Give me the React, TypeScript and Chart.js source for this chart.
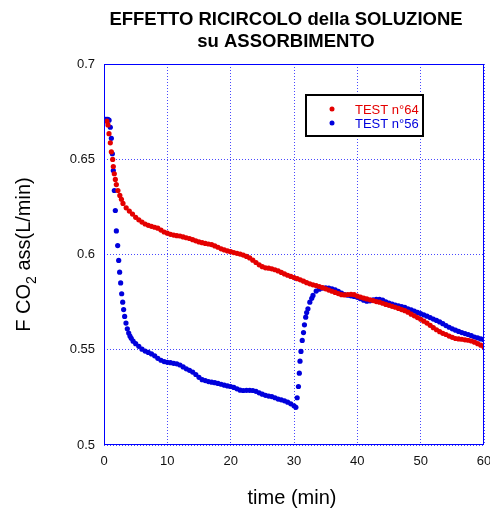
import { useEffect, useRef } from "react";
import { Chart, registerables } from "chart.js";

Chart.register(...registerables);

// Recirculation test data: time (min) and absorbed CO2 flow (L/min)
const test64Time = [
  0.45, 0.63, 0.79, 1.0, 1.16, 1.37, 1.47, 1.63, 1.79, 1.95, 2.2, 2.5, 2.75, 3.0, 3.5, 4.0, 4.5, 5.0, 5.5, 6.0,
  6.5, 7.0, 7.5, 8.0, 8.5, 9.0, 9.5, 10.0, 10.5, 11.0, 11.5, 12.0, 12.5, 13.0, 13.5, 14.0, 14.5, 15.0, 15.5, 16.0,
  16.5, 17.0, 17.5, 18.0, 18.5, 19.0, 19.5, 20.0, 20.5, 21.0, 21.5, 22.0, 22.5, 23.0, 23.5, 24.0, 24.5, 25.0, 25.5, 26.0,
  26.5, 27.0, 27.5, 28.0, 28.5, 29.0, 29.5, 30.0, 30.5, 31.0, 31.5, 32.0, 32.5, 33.0, 33.5, 34.0, 34.5, 35.0, 35.5, 36.0,
  36.5, 37.0, 37.5, 38.0, 38.5, 39.0, 39.5, 40.0, 40.5, 41.0, 41.5, 42.0, 42.5, 43.0, 43.5, 44.0, 44.5, 45.0, 45.5, 46.0,
  46.5, 47.0, 47.5, 48.0, 48.5, 49.0, 49.5, 50.0, 50.5, 51.0, 51.5, 52.0, 52.5, 53.0, 53.5, 54.0, 54.5, 55.0, 55.5, 56.0,
  56.5, 57.0, 57.5, 58.0, 58.5, 59.0, 59.5, 60.0,
];
const test64Flow = [
  0.67, 0.668, 0.6634, 0.6586, 0.6539, 0.6499, 0.6462, 0.6424, 0.6394, 0.6367, 0.6336, 0.631, 0.629, 0.6268, 0.6245, 0.6228, 0.6212, 0.6195, 0.6182, 0.617,
  0.616, 0.6153, 0.6148, 0.6143, 0.6138, 0.6128, 0.6118, 0.6112, 0.6106, 0.6102, 0.6099, 0.6097, 0.6092, 0.6088, 0.6084, 0.6078, 0.6072, 0.6066, 0.6062, 0.6058,
  0.6055, 0.6052, 0.6045, 0.6038, 0.603, 0.6024, 0.6019, 0.6015, 0.601, 0.6006, 0.6002, 0.5997, 0.599, 0.5982, 0.597, 0.5958, 0.5946, 0.5936, 0.593, 0.5928,
  0.5925, 0.592, 0.5914, 0.5906, 0.5898, 0.5891, 0.5885, 0.5879, 0.5873, 0.5867, 0.586, 0.5852, 0.5846, 0.5841, 0.5837, 0.5832, 0.5826, 0.582, 0.5813, 0.5807,
  0.5801, 0.5795, 0.5789, 0.5788, 0.579, 0.5791, 0.5789, 0.5782, 0.5776, 0.5771, 0.5767, 0.5762, 0.5758, 0.5753, 0.575, 0.5744, 0.5738, 0.5733, 0.5728, 0.5723,
  0.5717, 0.5711, 0.5705, 0.5697, 0.5687, 0.5678, 0.5669, 0.566, 0.565, 0.564, 0.5628, 0.5616, 0.5605, 0.5595, 0.5586, 0.558, 0.5572, 0.5565, 0.5559, 0.5557,
  0.5555, 0.5552, 0.555, 0.5546, 0.554, 0.5532, 0.5524, 0.5515,
];

const test56Time = [
  0.0, 0.2, 0.4, 0.6, 0.8, 1.0, 1.16, 1.32, 1.47, 1.63, 1.79, 1.95, 2.16, 2.32, 2.47, 2.63, 2.79, 2.95, 3.1, 3.26,
  3.47, 3.68, 3.9, 4.1, 4.3, 4.6, 5.0, 5.5, 6.0, 6.5, 7.0, 7.5, 8.0, 8.5, 9.0, 9.5, 10.0, 10.5, 11.0, 11.5,
  12.0, 12.5, 13.0, 13.5, 14.0, 14.5, 15.0, 15.5, 16.0, 16.5, 17.0, 17.5, 18.0, 18.5, 19.0, 19.5, 20.0, 20.5, 21.0, 21.5,
  22.0, 22.5, 23.0, 23.5, 24.0, 24.5, 25.0, 25.5, 26.0, 26.5, 27.0, 27.5, 28.0, 28.5, 29.0, 29.5, 30.0, 30.3, 30.5, 30.7,
  30.84, 30.95, 31.1, 31.3, 31.5, 31.65, 31.85, 32.0, 32.2, 32.5, 32.8, 33.0, 33.5, 34.0, 34.5, 35.0, 35.5, 36.0, 36.5, 37.0,
  37.5, 38.0, 38.5, 39.0, 39.5, 40.0, 40.5, 41.0, 41.5, 42.0, 42.5, 43.0, 43.5, 44.0, 44.5, 45.0, 45.5, 46.0, 46.5, 47.0,
  47.5, 48.0, 48.5, 49.0, 49.5, 50.0, 50.5, 51.0, 51.5, 52.0, 52.5, 53.0, 53.5, 54.0, 54.5, 55.0, 55.5, 56.0, 56.5, 57.0,
  57.5, 58.0, 58.5, 59.0, 59.5, 60.0,
];
const test56Flow = [
  0.671, 0.671, 0.671, 0.671, 0.6705, 0.6668, 0.661, 0.6529, 0.6441, 0.6336, 0.6231, 0.6124, 0.6047, 0.5969, 0.5907, 0.5851, 0.5794, 0.575, 0.5711, 0.5675,
  0.564, 0.561, 0.5588, 0.5572, 0.556, 0.5545, 0.5532, 0.5518, 0.5503, 0.5493, 0.5486, 0.5478, 0.5468, 0.5455, 0.5445, 0.5438, 0.5434, 0.5432, 0.5429, 0.5426,
  0.542, 0.541, 0.54, 0.5392, 0.5383, 0.537, 0.5355, 0.5343, 0.5338, 0.5333, 0.533, 0.5327, 0.5323, 0.5319, 0.5314, 0.531, 0.5307, 0.5302, 0.5295, 0.5288,
  0.5286, 0.5287, 0.5287, 0.5286, 0.5282, 0.5274, 0.5267, 0.5261, 0.5257, 0.5254, 0.5248, 0.5241, 0.5237, 0.5232, 0.5225, 0.5216, 0.5206, 0.5198, 0.5248, 0.5307,
  0.5377, 0.544, 0.5491, 0.5549, 0.559, 0.5631, 0.5671, 0.5695, 0.5715, 0.575, 0.577, 0.5785, 0.5808, 0.5818, 0.5824, 0.5825, 0.5823, 0.582, 0.5815, 0.5806,
  0.5798, 0.579, 0.5786, 0.5783, 0.578, 0.5775, 0.5768, 0.576, 0.5755, 0.5757, 0.5762, 0.5764, 0.5764, 0.576, 0.5751, 0.5745, 0.574, 0.5735, 0.5731, 0.5727,
  0.5722, 0.5715, 0.5709, 0.5703, 0.5696, 0.569, 0.5683, 0.5676, 0.5669, 0.5661, 0.5654, 0.5646, 0.5637, 0.5627, 0.5618, 0.561, 0.5603, 0.5596, 0.559, 0.5585,
  0.558, 0.5574, 0.5567, 0.5562, 0.5557, 0.5552,
];

const seriesNames = ["TEST n°64", "TEST n°56"];
const seriesColors = ["rgb(228,0,0)", "rgb(0,0,220)"];

const xTickValues = [0, 10, 20, 30, 40, 50, 60];
const yTickValues = [0.5, 0.55, 0.6, 0.65, 0.7];

const titleLines = ["EFFETTO RICIRCOLO della SOLUZIONE", "su ASSORBIMENTO"];
const xAxisTitle = "time (min)";
const yAxisTitleParts = ["F CO", "2", " ass(L/min)"];

const FONT = "Arial, 'Liberation Sans', Helvetica, sans-serif";
const GRID_BLUE = "rgba(40,40,255,0.85)";
const FRAME_BLUE = "rgb(0,0,255)";

function toPoints(xs: number[], ys: number[]) {
  return xs.map((x, i) => ({ x, y: ys[i] }));
}

// Frame, titles and the boxed legend drawn straight onto the canvas
const decorations = {
  id: "decorations",
  afterDraw(chart: any) {
    const { ctx, chartArea } = chart;
    const { left, right, top, bottom } = chartArea;
    const cx = (left + right) / 2 - 8;
    ctx.save();

    // plot frame
    ctx.strokeStyle = FRAME_BLUE;
    ctx.lineWidth = 1;
    ctx.setLineDash([]);
    ctx.strokeRect(left + 0.5, top + 0.5, right - left - 1, bottom - top - 1);

    // chart title
    ctx.fillStyle = "#000";
    ctx.font = `bold 18.5px ${FONT}`;
    ctx.textAlign = "center";
    ctx.textBaseline = "alphabetic";
    ctx.fillText(titleLines[0], cx, 24.5);
    ctx.fillText(titleLines[1], cx, 47);

    // x axis title
    ctx.font = `20px ${FONT}`;
    ctx.fillText(xAxisTitle, (left + right) / 2 - 2, 504);

    // y axis title with subscript
    ctx.save();
    ctx.translate(30, (top + bottom) / 2);
    ctx.rotate(-Math.PI / 2);
    ctx.font = `20px ${FONT}`;
    const w0 = ctx.measureText(yAxisTitleParts[0]).width;
    ctx.font = `14px ${FONT}`;
    const w1 = ctx.measureText(yAxisTitleParts[1]).width;
    ctx.font = `20px ${FONT}`;
    const w2 = ctx.measureText(yAxisTitleParts[2]).width;
    let x = -(w0 + w1 + w2) / 2;
    ctx.textAlign = "left";
    ctx.fillText(yAxisTitleParts[0], x, 0);
    x += w0;
    ctx.font = `14px ${FONT}`;
    ctx.fillText(yAxisTitleParts[1], x, 6);
    x += w1;
    ctx.font = `20px ${FONT}`;
    ctx.fillText(yAxisTitleParts[2], x, 0);
    ctx.restore();

    // legend
    const lx = left + 202;
    const ly = top + 31;
    ctx.fillStyle = "#fff";
    ctx.fillRect(lx, ly, 117, 41);
    ctx.strokeStyle = "#000";
    ctx.lineWidth = 2;
    ctx.strokeRect(lx, ly, 117, 41);
    ctx.font = `13px ${FONT}`;
    ctx.textAlign = "left";
    ctx.textBaseline = "middle";
    seriesNames.forEach((name, i) => {
      const yy = ly + 14 + i * 14;
      ctx.fillStyle = seriesColors[i];
      ctx.beginPath();
      ctx.arc(lx + 26, yy, 2.5, 0, Math.PI * 2);
      ctx.fill();
      ctx.fillText(name, lx + 49, yy + 1);
    });
    ctx.restore();
  },
};

export default function App() {
  const canvasRef = useRef<HTMLCanvasElement | null>(null);

  useEffect(() => {
    const canvas = canvasRef.current;
    if (!canvas) return;
    const chart = new Chart(canvas, {
      type: "scatter",
      data: {
        datasets: [
          {
            label: seriesNames[0],
            data: toPoints(test64Time, test64Flow),
            backgroundColor: seriesColors[0],
            borderWidth: 0,
            pointRadius: 2.6,
            showLine: false,
          },
          {
            label: seriesNames[1],
            data: toPoints(test56Time, test56Flow),
            backgroundColor: seriesColors[1],
            borderWidth: 0,
            pointRadius: 2.6,
            showLine: false,
          },
        ],
      },
      options: {
        animation: false,
        responsive: false,
        maintainAspectRatio: false,
        events: [],
        layout: { padding: { top: 64, right: 6, left: 0, bottom: 0 } },
        plugins: {
          legend: { display: false },
          title: { display: false },
          tooltip: { enabled: false },
        },
        scales: {
          x: {
            type: "linear",
            min: 0,
            max: 60,
            afterBuildTicks: (scale: any) => {
              scale.ticks = xTickValues.map((v) => ({ value: v }));
            },
            afterFit: (scale: any) => {
              scale.height = 65;
              scale.paddingLeft = 0;
              scale.paddingRight = 0;
            },
            ticks: {
              autoSkip: false,
              maxRotation: 0,
              padding: 9,
              color: "#111",
              font: { family: FONT, size: 13 },
              callback: (v: any) => String(v),
            },
            grid: {
              color: GRID_BLUE,
              lineWidth: 1,
              drawTicks: false,
            },
            border: { display: false, dash: [1, 2] },
          },
          y: {
            type: "linear",
            min: 0.5,
            max: 0.7,
            afterBuildTicks: (scale: any) => {
              scale.ticks = yTickValues.map((v) => ({ value: v }));
            },
            afterFit: (scale: any) => {
              scale.width = 104;
              scale.paddingTop = 0;
              scale.paddingBottom = 0;
            },
            ticks: {
              autoSkip: false,
              padding: 9,
              color: "#111",
              font: { family: FONT, size: 13 },
              callback: (v: any) => String(v),
            },
            grid: {
              color: GRID_BLUE,
              lineWidth: 1,
              drawTicks: false,
            },
            border: { display: false, dash: [1, 2] },
          },
        },
      },
      plugins: [decorations],
    });
    return () => chart.destroy();
  }, []);

  return (
    <div style={{ position: "fixed", left: 0, top: 0, width: 490, height: 510, background: "#fff" }}>
      <canvas ref={canvasRef} width={490} height={510} style={{ display: "block" }} />
    </div>
  );
}
